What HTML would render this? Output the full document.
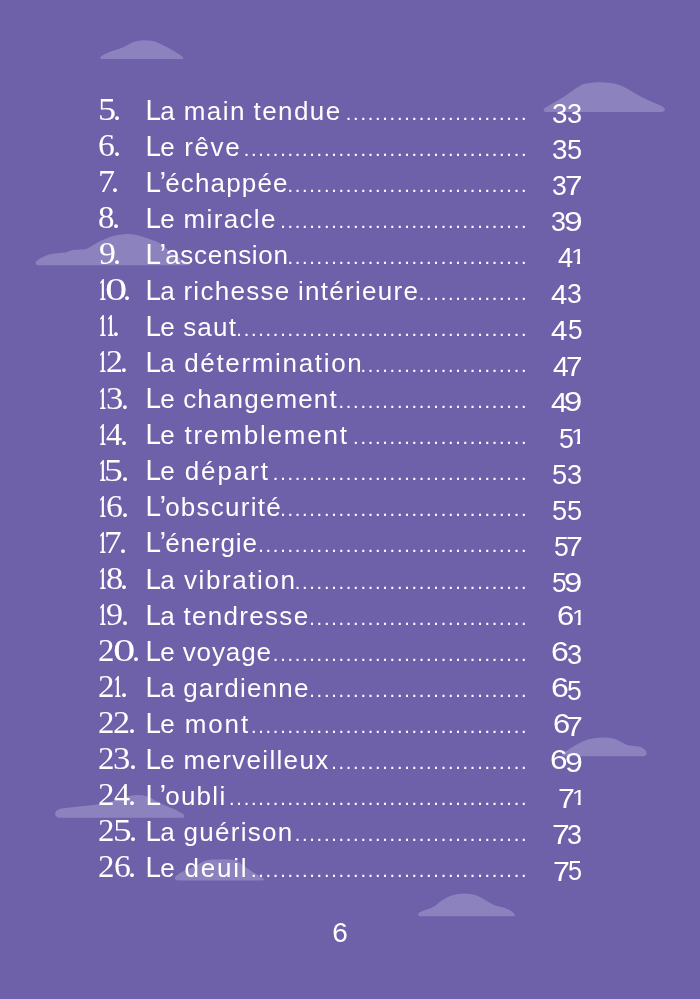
<!DOCTYPE html>
<html lang="fr"><head><meta charset="utf-8"><title>Sommaire</title>
<style>
html,body{margin:0;padding:0;}
body{width:700px;height:999px;background:#6e60a9;position:relative;overflow:hidden;font-family:"Liberation Sans",sans-serif;color:#fff;}
.clouds{position:absolute;left:0;top:0;width:700px;height:999px;}
.r{position:absolute;left:0;width:700px;height:36px;will-change:transform;}
.n,.p{position:absolute;left:0;top:0;white-space:nowrap;line-height:1;}
.n{font-family:"Liberation Serif",serif;font-size:31px;}
.p{font-size:27px;}
.n i,.p i,.n b,.p b{position:absolute;display:block;font-style:normal;line-height:1;}
.n i,.n b{transform-origin:0 25.96px;}
.p i,.p b{transform-origin:0 22.86px;}
.t{word-spacing:-1.0px;position:absolute;white-space:nowrap;line-height:27px;left:145.3px;top:6px;font-size:26px;}
.t .c{font-size:30px;letter-spacing:-1.8px;display:inline-block;transform:scaleX(0.93);transform-origin:50% 50%;}
.t .c.a{letter-spacing:-2.6px;}
.t .q{font-size:30px;letter-spacing:-0.9px;}
.d{position:absolute;right:171.78px;top:13.35px;font-size:20px;line-height:1;letter-spacing:1.74px;white-space:nowrap;}
.f{will-change:transform;position:absolute;left:299.8px;width:80px;text-align:center;top:918.5px;font-size:28px;line-height:1;}
</style></head>
<body>
<svg class="clouds" width="700" height="999" viewBox="0 0 700 999">
<g fill="#8c82be">
<path d="M102 59.1 C99.8 59.1 99.7 56.9 101.4 55.9 C105 53.8 109 52 113.6 50.5 C117 49.4 119 49.1 121.4 48.1 C124.5 47 127 45 130.1 43.4 C134.5 41.2 139.5 40.2 145 40.2 C149.8 40.2 154 41 157.6 42.6 C161.5 44.3 165 46.2 168.6 48.1 C172 49.9 175 51.6 178 53.6 C180 54.9 181.5 56 182.6 57 C183.8 58.1 183.4 59.1 181.5 59.1 Z"/>
<path d="M546 112 C543 112 542.8 109.4 545.5 107.6 C551 104 556.5 101 562 97.9 C566 95.6 569 93 572.9 90.4 C576.5 87.9 580 85.2 583.6 83.9 C592 81.9 603 81.9 611.4 82.9 C617 83.8 622 85.8 626.4 88.2 C630.5 90.4 633.5 92.6 637 94.6 C641.5 97.1 646 99 650 101 C654 102.9 658 104 660.7 105.4 C663.3 106.7 664.8 108 664.9 109.6 C665 111.1 663.6 112 661.5 112 Z"/>
<path d="M38.5 265.2 C35 265.2 34.6 262.4 36.8 260.7 C40.5 257.9 45 255.5 50 254.2 C55 253 60 252.9 65 252.4 C67.5 252.1 69 251 71 250.4 C75.5 249.5 80.5 249.8 85 249.3 C87.5 248.8 88.7 247.8 90 247 C93.5 245 96.5 243 100 241.3 C105 238.9 110 236.7 115 235.5 C119.5 234.5 124 233.9 128 233.9 C133 233.9 138 235 142.1 236.6 C147 238.4 151 239.6 155 241.1 C157.5 242.1 159.5 243.1 161.4 244.3 C164 246 165.8 248.3 167.8 250.1 C170 252 172 253.3 174.3 254.6 C177 256.2 179.5 257.9 182 259.4 C184.5 260.9 187 262 188.8 263.2 C190.5 264.3 190 265.2 188 265.2 Z"/>
<path d="M564.5 756.2 C562 756.2 561.6 754.4 563.5 753 C568 749.8 573.5 746.3 578.6 743.6 C582.3 741.6 585.5 740.2 589 739.2 C594 737.9 599.5 737.4 604.5 737.4 C609 737.4 612.5 738.1 615.5 739.2 C618.5 740.3 621 741.8 623.5 743.2 C625.5 744.3 627.5 745.1 630 745.6 C633 746.2 636 746 638.6 746.6 C641.5 747.3 643.8 748.5 645.2 750 C646.9 751.9 647.1 753.7 646.1 755 C645.3 755.9 644 756.2 642.5 756.2 Z"/>
<path d="M59.5 817.8 C56.5 817.8 54.8 815.2 55.2 813 C55.7 810.6 58 809.3 61.4 808.6 C70 807 79 806.6 87 805.7 C91 805.2 95 804.9 98.6 804.3 C103 803.5 108 802.5 113 801 C118 799.5 123 797.5 128 796.2 C131.5 795.3 135.5 795 139.3 795 C144 795 148 796.5 151.5 798.3 C153.2 799.2 154.8 800.4 156.4 801.4 C161.5 804 166.5 805.8 171.4 807.9 C175.5 809.7 179.5 811.6 182.5 813.4 C185.3 815.1 184.9 817.8 182 817.8 Z"/>
<path d="M178 880.4 C174.6 880.4 174 877.4 176 875.9 C178.2 874.3 180.3 872.9 182.3 871.8 C186.5 869.6 190.5 868.4 194.3 866.6 C197.8 865.2 201 862.8 204.6 861.1 C208.2 859.7 212.2 859.4 216.6 859.4 C222 859.4 227 859.2 231.5 859.7 C236.8 860.3 241.5 863.8 245.7 867.1 C249.2 869.9 252.5 872.2 256 874 C258.7 875.4 261.2 876.6 262.9 878 C264.5 879.3 264 880.5 261.8 880.5 Z"/>
<path d="M420.5 916.2 C417.9 916.2 417.4 914 419.3 912.6 C423 910.6 427 909.3 430.7 908.3 C434 907 436.8 904.7 439.3 902.3 C442.5 899.8 446 897.8 449.6 896.3 C454 894.5 459 893.6 464.5 893.6 C469.5 893.6 474 894.5 478.3 896.2 C482 897.8 485.3 900 488.6 902.1 C490.8 903.5 493 904.8 495.2 905.5 C498 906.4 500.5 906.6 503.2 907.4 C506.3 908.3 508.8 909.6 511 910.9 C512.5 911.8 513.7 912.8 514.5 913.8 C515.6 915.1 514.9 916.2 512.9 916.2 Z"/>
</g>
</svg>

<div class="r" style="top:90px"><span class="n"><i style="left:97.64px;top:4.04px;transform:scale(1.169,1.009);">5</i><i style="left:113.43px;top:4.04px;transform:scale(1.037,1.037);">.</i></span><span class="t" style="letter-spacing:1.438px"><span class="c">L</span>a main tendue</span><span class="d">.........................</span><span class="p"><i style="left:551.64px;top:10.97px;transform:scale(1.031,1.015);">3</i><i style="left:567.06px;top:10.97px;transform:scale(1.008,1.015);">3</i></span></div>
<div class="r" style="top:126px"><span class="n"><i style="left:98.30px;top:4.10px;transform:scale(1.087,1.009);">6</i><i style="left:113.43px;top:4.10px;transform:scale(1.037,1.037);">.</i></span><span class="t" style="letter-spacing:1.650px"><span class="c">L</span>e rêve</span><span class="d">.......................................</span><span class="p"><i style="left:551.64px;top:11.03px;transform:scale(1.031,1.015);">3</i><i style="left:567.01px;top:11.03px;transform:scale(1.008,1.030);">5</i></span></div>
<div class="r" style="top:162px"><span class="n"><i style="left:97.51px;top:4.16px;transform:scale(1.098,1.009);">7</i><i style="left:111.43px;top:4.16px;transform:scale(1.037,1.037);">.</i></span><span class="t" style="letter-spacing:1.156px"><span class="c a">L</span><span class="q">’</span>échappée</span><span class="d">.................................</span><span class="p"><i style="left:552.39px;top:11.10px;transform:scale(0.984,1.015);">3</i><i style="left:564.98px;top:11.36px;transform:scale(1.173,1.044);">7</i></span></div>
<div class="r" style="top:198px"><span class="n"><i style="left:98.49px;top:4.23px;transform:scale(1.066,1.009);">8</i><i style="left:112.33px;top:4.23px;transform:scale(1.037,1.037);">.</i></span><span class="t" style="letter-spacing:1.335px"><span class="c">L</span>e miracle</span><span class="d">..................................</span><span class="p"><i style="left:551.08px;top:11.16px;transform:scale(0.992,1.015);">3</i><i style="left:563.93px;top:11.16px;transform:scale(1.243,1.015);">9</i></span></div>
<div class="r" style="top:234px"><span class="n"><i style="left:98.66px;top:4.29px;transform:scale(1.088,1.009);">9</i><i style="left:113.33px;top:4.29px;transform:scale(1.037,1.037);">.</i></span><span class="t" style="letter-spacing:0.720px"><span class="c a">L</span><span class="q">’</span>ascension</span><span class="d">.................................</span><span class="p"><i style="left:557.58px;top:11.49px;transform:scale(1.007,1.044);">4</i><i style="left:571.10px;top:8.09px;transform:scale(0.973,0.834);clip-path:polygon(0 -4px,15.02px -4px,15.02px 19.24px,9.33px 19.24px,9.33px 31.00px,6.19px 31.00px,6.19px 19.24px,0 19.24px);">1</i></span></div>
<div class="r" style="top:270px"><span class="n"><b style="left:98.58px;top:4.35px;transform:scale(0.473,1.009);">1</b><i style="left:104.55px;top:4.35px;transform:scale(1.439,1.009);">0</i><i style="left:123.43px;top:4.35px;transform:scale(1.037,1.037);">.</i></span><span class="t" style="letter-spacing:1.277px"><span class="c">L</span>a richesse intérieure</span><span class="d">...............</span><span class="p"><i style="left:550.93px;top:11.55px;transform:scale(1.088,1.044);">4</i><i style="left:567.39px;top:11.28px;transform:scale(0.984,1.015);">3</i></span></div>
<div class="r" style="top:306px"><span class="n"><b style="left:98.58px;top:4.41px;transform:scale(0.473,1.009);">1</b><b style="left:106.58px;top:4.41px;transform:scale(0.473,1.009);">1</b><i style="left:111.59px;top:4.41px;transform:scale(1.010,1.010);">.</i></span><span class="t" style="letter-spacing:1.167px"><span class="c">L</span>e saut</span><span class="d">........................................</span><span class="p"><i style="left:551.22px;top:11.61px;transform:scale(1.095,1.044);">4</i><i style="left:567.55px;top:11.34px;transform:scale(0.969,1.030);">5</i></span></div>
<div class="r" style="top:342px"><span class="n"><b style="left:98.58px;top:4.47px;transform:scale(0.473,1.009);">1</b><i style="left:106.26px;top:4.47px;transform:scale(1.094,1.009);">2</i><i style="left:120.29px;top:4.47px;transform:scale(1.010,1.010);">.</i></span><span class="t" style="letter-spacing:1.665px"><span class="c">L</span>a détermination</span><span class="d">.......................</span><span class="p"><i style="left:552.55px;top:11.67px;transform:scale(1.051,1.044);">4</i><i style="left:565.78px;top:11.67px;transform:scale(1.100,1.044);">7</i></span></div>
<div class="r" style="top:378px"><span class="n"><b style="left:98.58px;top:4.54px;transform:scale(0.473,1.009);">1</b><i style="left:105.79px;top:4.54px;transform:scale(1.117,1.009);">3</i><i style="left:120.89px;top:4.54px;transform:scale(1.010,1.010);">.</i></span><span class="t" style="letter-spacing:1.158px"><span class="c">L</span>e changement</span><span class="d">..........................</span><span class="p"><i style="left:550.62px;top:11.74px;transform:scale(1.095,1.044);">4</i><i style="left:564.26px;top:11.47px;transform:scale(1.219,1.015);">9</i></span></div>
<div class="r" style="top:414px"><span class="n"><b style="left:98.58px;top:4.60px;transform:scale(0.473,1.009);">1</b><i style="left:105.62px;top:4.60px;transform:scale(1.041,1.009);">4</i><i style="left:120.23px;top:4.60px;transform:scale(1.037,1.037);">.</i></span><span class="t" style="letter-spacing:1.793px"><span class="c">L</span>e tremblement</span><span class="d">........................</span><span class="p"><i style="left:558.73px;top:11.53px;transform:scale(0.992,1.030);">5</i><i style="left:571.10px;top:8.40px;transform:scale(0.973,0.834);clip-path:polygon(0 -4px,15.02px -4px,15.02px 19.24px,9.33px 19.24px,9.33px 31.00px,6.19px 31.00px,6.19px 19.24px,0 19.24px);">1</i></span></div>
<div class="r" style="top:450px"><span class="n"><b style="left:98.58px;top:4.66px;transform:scale(0.473,1.009);">1</b><i style="left:104.46px;top:4.66px;transform:scale(1.217,1.009);">5</i><i style="left:120.83px;top:4.66px;transform:scale(1.037,1.037);">.</i></span><span class="t" style="letter-spacing:1.899px"><span class="c">L</span>e départ</span><span class="d">...................................</span><span class="p"><i style="left:551.91px;top:11.59px;transform:scale(1.008,1.030);">5</i><i style="left:567.06px;top:11.59px;transform:scale(1.008,1.015);">3</i></span></div>
<div class="r" style="top:486px"><span class="n"><b style="left:98.58px;top:4.72px;transform:scale(0.473,1.009);">1</b><i style="left:105.60px;top:4.72px;transform:scale(1.087,1.009);">6</i><i style="left:120.83px;top:4.72px;transform:scale(1.037,1.037);">.</i></span><span class="t" style="letter-spacing:1.250px"><span class="c a">L</span><span class="q">’</span>obscurité</span><span class="d">..................................</span><span class="p"><i style="left:551.91px;top:11.65px;transform:scale(1.008,1.030);">5</i><i style="left:567.01px;top:11.65px;transform:scale(1.008,1.030);">5</i></span></div>
<div class="r" style="top:522px"><span class="n"><b style="left:98.58px;top:4.78px;transform:scale(0.473,1.009);">1</b><i style="left:103.62px;top:4.78px;transform:scale(1.138,1.009);">7</i><i style="left:118.83px;top:4.78px;transform:scale(1.037,1.037);">.</i></span><span class="t" style="letter-spacing:0.834px"><span class="c a">L</span><span class="q">’</span>énergie</span><span class="d">.....................................</span><span class="p"><i style="left:553.84px;top:11.71px;transform:scale(0.984,1.030);">5</i><i style="left:565.75px;top:11.98px;transform:scale(1.116,1.044);">7</i></span></div>
<div class="r" style="top:559px"><span class="n"><b style="left:98.58px;top:3.85px;transform:scale(0.473,1.009);">1</b><i style="left:105.74px;top:3.85px;transform:scale(1.111,1.009);">8</i><i style="left:120.33px;top:3.85px;transform:scale(1.037,1.037);">.</i></span><span class="t" style="letter-spacing:1.581px"><span class="c">L</span>a vibration</span><span class="d">................................</span><span class="p"><i style="left:551.94px;top:10.77px;transform:scale(0.976,1.030);">5</i><i style="left:564.26px;top:10.78px;transform:scale(1.219,1.015);">9</i></span></div>
<div class="r" style="top:595px"><span class="n"><b style="left:98.58px;top:3.91px;transform:scale(0.473,1.009);">1</b><i style="left:105.95px;top:3.91px;transform:scale(1.104,1.009);">9</i><i style="left:120.73px;top:3.91px;transform:scale(1.037,1.037);">.</i></span><span class="t" style="letter-spacing:1.308px"><span class="c">L</span>a tendresse</span><span class="d">..............................</span><span class="p"><i style="left:557.13px;top:7.64px;transform:scale(1.148,1.004);">6</i><i style="left:571.54px;top:7.71px;transform:scale(0.927,0.834);clip-path:polygon(0 -4px,15.02px -4px,15.02px 19.24px,9.33px 19.24px,9.33px 31.00px,6.19px 31.00px,6.19px 19.24px,0 19.24px);">1</i></span></div>
<div class="r" style="top:631px"><span class="n"><i style="left:98.30px;top:3.97px;transform:scale(1.062,1.009);">2</i><i style="left:113.04px;top:3.97px;transform:scale(1.446,1.009);">0</i><i style="left:132.03px;top:3.97px;transform:scale(1.037,1.037);">.</i></span><span class="t" style="letter-spacing:0.900px"><span class="c">L</span>e voyage</span><span class="d">...................................</span><span class="p"><i style="left:551.07px;top:7.70px;transform:scale(1.188,1.004);">6</i><i style="left:567.06px;top:10.90px;transform:scale(1.008,1.015);">3</i></span></div>
<div class="r" style="top:667px"><span class="n"><i style="left:98.30px;top:4.03px;transform:scale(1.062,1.009);">2</i><b style="left:113.78px;top:4.03px;transform:scale(0.473,1.009);">1</b><i style="left:120.13px;top:4.03px;transform:scale(1.037,1.037);">.</i></span><span class="t" style="letter-spacing:1.181px"><span class="c">L</span>a gardienne</span><span class="d">..............................</span><span class="p"><i style="left:551.07px;top:7.77px;transform:scale(1.188,1.004);">6</i><i style="left:567.34px;top:10.96px;transform:scale(0.984,1.030);">5</i></span></div>
<div class="r" style="top:703px"><span class="n"><i style="left:98.30px;top:4.09px;transform:scale(1.062,1.009);">2</i><i style="left:113.45px;top:4.09px;transform:scale(1.102,1.009);">2</i><i style="left:128.03px;top:4.09px;transform:scale(1.037,1.037);">.</i></span><span class="t" style="letter-spacing:1.899px"><span class="c">L</span>e mont</span><span class="d">......................................</span><span class="p"><i style="left:553.33px;top:7.83px;transform:scale(1.148,1.004);">6</i><i style="left:565.75px;top:11.29px;transform:scale(1.116,1.044);">7</i></span></div>
<div class="r" style="top:739px"><span class="n"><i style="left:98.30px;top:4.16px;transform:scale(1.062,1.009);">2</i><i style="left:113.49px;top:4.16px;transform:scale(1.117,1.009);">3</i><i style="left:128.83px;top:4.16px;transform:scale(1.037,1.037);">.</i></span><span class="t" style="letter-spacing:1.317px"><span class="c">L</span>e merveilleux</span><span class="d">...........................</span><span class="p"><i style="left:549.99px;top:7.89px;transform:scale(1.172,1.004);">6</i><i style="left:564.70px;top:11.09px;transform:scale(1.187,1.015);">9</i></span></div>
<div class="r" style="top:775px"><span class="n"><i style="left:98.30px;top:4.22px;transform:scale(1.062,1.009);">2</i><i style="left:113.72px;top:4.22px;transform:scale(1.041,1.009);">4</i><i style="left:127.83px;top:4.22px;transform:scale(1.037,1.037);">.</i></span><span class="t" style="letter-spacing:1.269px"><span class="c a">L</span><span class="q">’</span>oubli</span><span class="d">.........................................</span><span class="p"><i style="left:558.04px;top:11.42px;transform:scale(1.124,1.044);">7</i><i style="left:572.04px;top:8.02px;transform:scale(0.927,0.834);clip-path:polygon(0 -4px,15.02px -4px,15.02px 19.24px,9.33px 19.24px,9.33px 31.00px,6.19px 31.00px,6.19px 19.24px,0 19.24px);">1</i></span></div>
<div class="r" style="top:811px"><span class="n"><i style="left:98.30px;top:4.28px;transform:scale(1.062,1.009);">2</i><i style="left:112.57px;top:4.28px;transform:scale(1.209,1.009);">5</i><i style="left:129.03px;top:4.28px;transform:scale(1.037,1.037);">.</i></span><span class="t" style="letter-spacing:1.290px"><span class="c">L</span>a guérison</span><span class="d">................................</span><span class="p"><i style="left:552.16px;top:11.48px;transform:scale(1.181,1.044);">7</i><i style="left:567.28px;top:11.21px;transform:scale(0.992,1.015);">3</i></span></div>
<div class="r" style="top:847px"><span class="n"><i style="left:98.30px;top:4.34px;transform:scale(1.062,1.009);">2</i><i style="left:113.60px;top:4.34px;transform:scale(1.087,1.009);">6</i><i style="left:128.43px;top:4.34px;transform:scale(1.037,1.037);">.</i></span><span class="t" style="letter-spacing:1.786px"><span class="c">L</span>e deuil</span><span class="d">......................................</span><span class="p"><i style="left:552.94px;top:11.54px;transform:scale(1.124,1.044);">7</i><i style="left:567.99px;top:11.27px;transform:scale(0.937,1.030);">5</i></span></div>
<div class="f">6</div>
</body></html>
